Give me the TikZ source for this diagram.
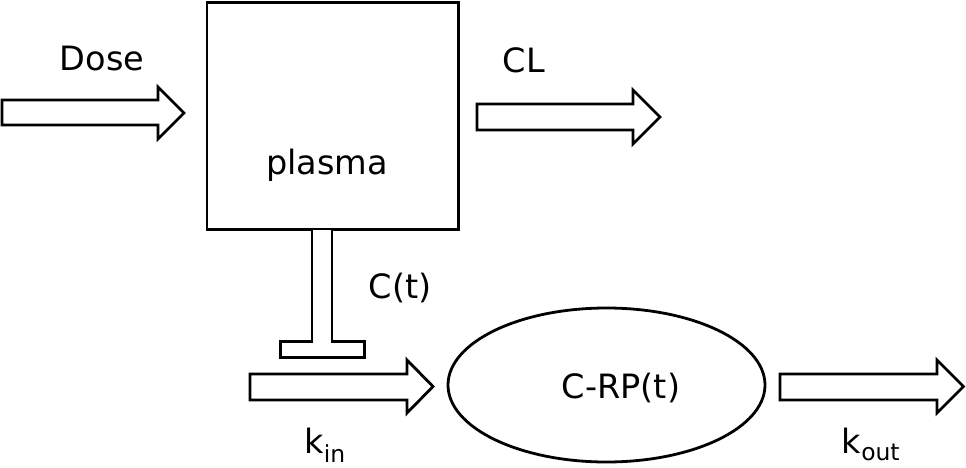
\documentclass[tikz,border=0pt]{standalone}
\usepackage{fontspec}
\setmainfont{DejaVu Sans}
\usetikzlibrary{shapes.geometric}
\begin{document}
\begin{tikzpicture}[x=1pt,y=-1pt,
  line width=2.8pt, line join=miter,
  lbl/.style={anchor=base, inner sep=0pt, font=\fontsize{33.5}{40}\selectfont},
  blockarrow/.style={draw=black, fill=white}]
\useasboundingbox[fill=white] (0,0) rectangle (966,468);
% plasma compartment
\node[draw, minimum width=251.5pt, minimum height=226.5pt, inner sep=0pt, anchor=north west] (plasma) at (205.5,1.5) {};
\node[lbl] (plasmaT) at (327,174) {plasma};
% effect compartment
\node[draw, ellipse, minimum width=317pt, minimum height=154pt, inner sep=0pt] (crp) at (606.5,385) {};
\node[lbl] (crpT) at (621,398) {C-RP(t)};
% Dose arrow
\draw[blockarrow] (2,100) -- (158,100) -- (158,87) -- (184,113) -- (158,139) -- (158,125) -- (2,125) -- cycle;
\node[lbl] (dose) at (102,71) {Dose};
% CL arrow
\draw[blockarrow] (477,104) -- (633,104) -- (633,90) -- (660,117) -- (633,144) -- (633,130) -- (477,130) -- cycle;
\node[lbl] (cl) at (524,73) {CL};
% link
\draw (298,229.5) -- (346,229.5);
\draw[blockarrow] (312,230) -- (312,341.5) -- (280.5,341.5) -- (280.5,357.5) -- (364.5,357.5) -- (364.5,341.5) -- (332,341.5) -- (332,230);
\node[lbl] (ct) at (400,298) {C(t)};
% kin arrow
\draw[blockarrow] (250,374) -- (407,374) -- (407,360) -- (433,386.5) -- (407,413) -- (407,400) -- (250,400) -- cycle;
\node[lbl] (kin) at (325,453) {k\textsubscript{in}};
% kout arrow
\draw[blockarrow] (780,374) -- (937,374) -- (937,360) -- (963.5,386.5) -- (937,413) -- (937,400) -- (780,400) -- cycle;
\node[lbl] (kout) at (871,453) {k\textsubscript{out}};
\end{tikzpicture}
\end{document}
